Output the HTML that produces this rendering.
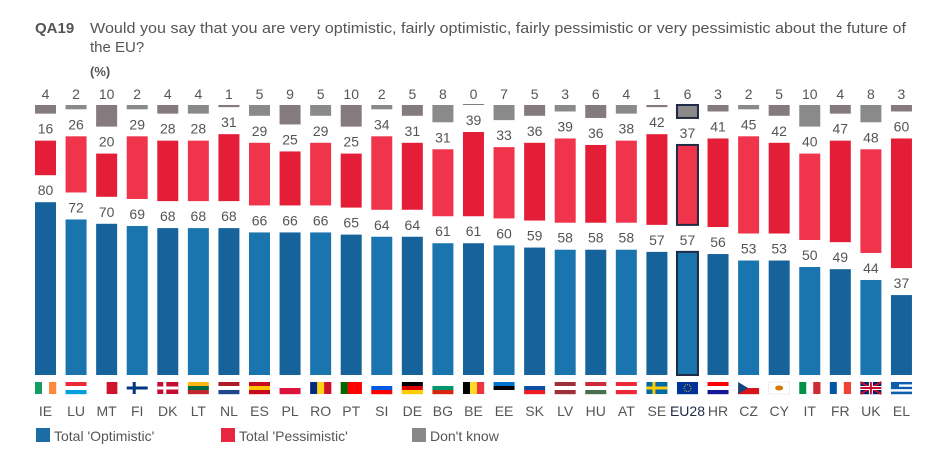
<!DOCTYPE html>
<html><head><meta charset="utf-8"><style>
body{margin:0;background:#fff;width:946px;height:461px;overflow:hidden}
svg{display:block;font-family:"Liberation Sans",sans-serif}
</style></head><body>
<svg id="chart" width="946" height="461" viewBox="0 0 946 461">
<text x="35" y="33" font-size="15" font-weight="bold" fill="#555" font-family="Liberation Sans Narrow, Liberation Sans, sans-serif">QA19</text>
<text x="90" y="33" font-size="15" fill="#555" textLength="816" lengthAdjust="spacingAndGlyphs">Would you say that you are very optimistic, fairly optimistic, fairly pessimistic or very pessimistic about the future of</text>
<text x="90" y="52" font-size="15" fill="#555">the EU?</text>
<text x="90" y="76" font-size="13" font-weight="bold" fill="#555">(%)</text>
<g id="bars"></g>
<g>
<rect x="36" y="428" width="14" height="14" fill="#1a6ea5"/>
<text x="54" y="441" font-size="14" fill="#555">Total 'Optimistic'</text>
<rect x="221" y="428" width="14" height="14" fill="#e8263f"/>
<text x="239" y="441" font-size="14" fill="#555">Total 'Pessimistic'</text>
<rect x="412" y="428" width="14" height="14" fill="#888"/>
<text x="430" y="441" font-size="14" fill="#555">Don't know</text>
</g>
</svg>
<script>
const categories=["IE","LU","MT","FI","DK","LT","NL","ES","PL","RO","PT","SI","DE","BG","BE","EE","SK","LV","HU","AT","SE","EU28","HR","CZ","CY","IT","FR","UK","EL"];
const optimistic=[80,72,70,69,68,68,68,66,66,66,65,64,64,61,61,60,59,58,58,58,57,57,56,53,53,50,49,44,37];
const pessimistic=[16,26,20,29,28,28,31,29,25,29,25,34,31,31,39,33,36,39,36,38,42,37,41,45,42,40,47,48,60];
const dontKnow=[4,2,10,2,4,4,1,5,9,5,10,2,5,8,0,7,5,3,6,4,1,6,3,2,5,10,4,8,3];
const flags={IE:["v","#169b62","#fff","#ff883e"],LU:["h","#ed2939","#fff","#00a1de"],MT:["v","#fff","#cf142b"],FI:["nord","#fff","#003580"],DK:["nord","#c60c30","#fff"],LT:["h","#fdb913","#006a44","#c1272d"],NL:["h","#ae1c28","#fff","#21468b"],ES:["h","#c60b1e","#ffc400","#c60b1e"],PL:["h","#fff","#dc143c"],RO:["v","#002b7f","#fcd116","#ce1126"],PT:["v","#006600","#ff0000","#ff0000"],SI:["h","#fff","#005ce5","#ff0000"],DE:["h","#000","#dd0000","#ffce00"],BG:["h","#fff","#00966e","#d62612"],BE:["v","#000","#fdda24","#ef3340"],EE:["h","#0072ce","#000","#fff"],SK:["h","#fff","#0b4ea2","#ee1c25"],LV:["h","#9e3039","#fff","#9e3039"],HU:["h","#ce2939","#fff","#477050"],AT:["h","#ed2939","#fff","#ed2939"],SE:["nord","#006aa7","#fecc00"],EU28:["h","#003399"],HR:["h","#ff0000","#fff","#171796"],CZ:["h","#fff","#d7141a"],CY:["h","#fff"],IT:["v","#009246","#fff","#ce2b37"],FR:["v","#0055a4","#fff","#ef4135"],UK:["h","#012169"],EL:["h","#0d5eaf","#fff","#0d5eaf","#fff","#0d5eaf"]};
const NS="http://www.w3.org/2000/svg";
const g=document.getElementById('bars');
const x0=35,pitch=30.57,bw=21,base=375,k=2.16,gap=27;
const xPos=i=>x0+i*pitch;
const h=v=>v*k;
function mk(tag,attrs){const e=document.createElementNS(NS,tag);for(const a in attrs)e.setAttribute(a,attrs[a]);g.appendChild(e);return e;}
categories.forEach((c,i)=>{
  const x=xPos(i),eu=c==="EU28";
  const blueCol=i%2?"#1a74ad":"#15639a";
  const redCol=i%2?"#f0344c":"#e31e36";
  const grayCol=i%2?"#8a8a8a":"#857a7d";
  const stroke=eu?{stroke:"#1f2a44","stroke-width":2}:{};
  const hb=h(optimistic[i]);
  const b=mk('rect',Object.assign({x:x,y:base-hb,width:bw,height:hb,fill:blueCol},stroke));
  
  
  const t1=mk('text',{x:x+bw/2,y:base-hb-7,'text-anchor':'middle','font-size':14,fill:'#555'});t1.textContent=optimistic[i];
  
  
  const rb=base-hb-gap,hr=h(pessimistic[i]);
  const r=mk('rect',Object.assign({x:x,y:rb-hr,width:bw,height:hr,fill:redCol},stroke));
  
  
  const t2=mk('text',{x:x+bw/2,y:rb-hr-7,'text-anchor':'middle','font-size':14,fill:'#555'});t2.textContent=pessimistic[i];
  
  
  const db=rb-hr-gap,hd=Math.max(h(dontKnow[i]),1);
  const d=mk('rect',Object.assign({x:x,y:db-hd,width:bw,height:hd,fill:grayCol},stroke));
  
  
  const t3=mk('text',{x:x+bw/2,y:99,'text-anchor':'middle','font-size':14,fill:'#555'});t3.textContent=dontKnow[i];
  
  
  const f=flags[c],fy=382,fh=12;
  const cols=f.slice(1);
  if(f[0]==="v"){cols.forEach((col,j)=>{const s=mk('rect',{x:x+j*bw/cols.length,y:fy,width:bw/cols.length+0.2,height:fh,fill:col});});}
  else if(f[0]==="nord"){const s0=mk('rect',{x:x,y:fy,width:bw,height:fh,fill:cols[0]});
    const s1=mk('rect',{x:x+6,y:fy,width:3,height:fh,fill:cols[1]});
    const s2=mk('rect',{x:x,y:fy+4.5,width:bw,height:3,fill:cols[1]});}
  else{cols.forEach((col,j)=>{const s=mk('rect',{x:x,y:fy+j*fh/cols.length,width:bw,height:fh/cols.length+0.2,fill:col});});
    if(c==="UK"){const u1=mk('path',{d:`M${x} ${fy}L${x+bw} ${fy+fh}M${x+bw} ${fy}L${x} ${fy+fh}`,stroke:'#c8102e','stroke-width':2});
      const u2=mk('path',{d:`M${x+bw/2} ${fy}V${fy+fh}M${x} ${fy+fh/2}H${x+bw}`,stroke:'#fff','stroke-width':4});
      const u3=mk('path',{d:`M${x+bw/2} ${fy}V${fy+fh}M${x} ${fy+fh/2}H${x+bw}`,stroke:'#c8102e','stroke-width':2});}
    if(c==="CZ"){const p=mk('path',{d:`M${x} ${fy}L${x+10} ${fy+fh/2}L${x} ${fy+fh}Z`,fill:'#11457e'});}
    if(c==="CY"){const p=mk('ellipse',{cx:x+bw/2,cy:fy+fh/2,rx:4,ry:2.5,fill:'#d57800'});const o=mk('rect',{x:x,y:fy,width:bw,height:fh,fill:'none',stroke:'#ddd','stroke-width':0.5});}
    if(c==="EU28"){const p=mk('circle',{cx:x+bw/2,cy:fy+fh/2,r:3.5,fill:'none',stroke:'#fc0','stroke-width':0.8,'stroke-dasharray':'1 1'});}
    if(c==="EL"){const p=mk('rect',{x:x,y:fy,width:8,height:6,fill:'#0d5eaf'});}
  }
  const lbl=mk('text',{x:x+bw/2,y:416,'text-anchor':'middle','font-size':14,fill:eu?'#1f2a44':'#555'});lbl.textContent=c;
  
  
});
</script>
</body></html>
